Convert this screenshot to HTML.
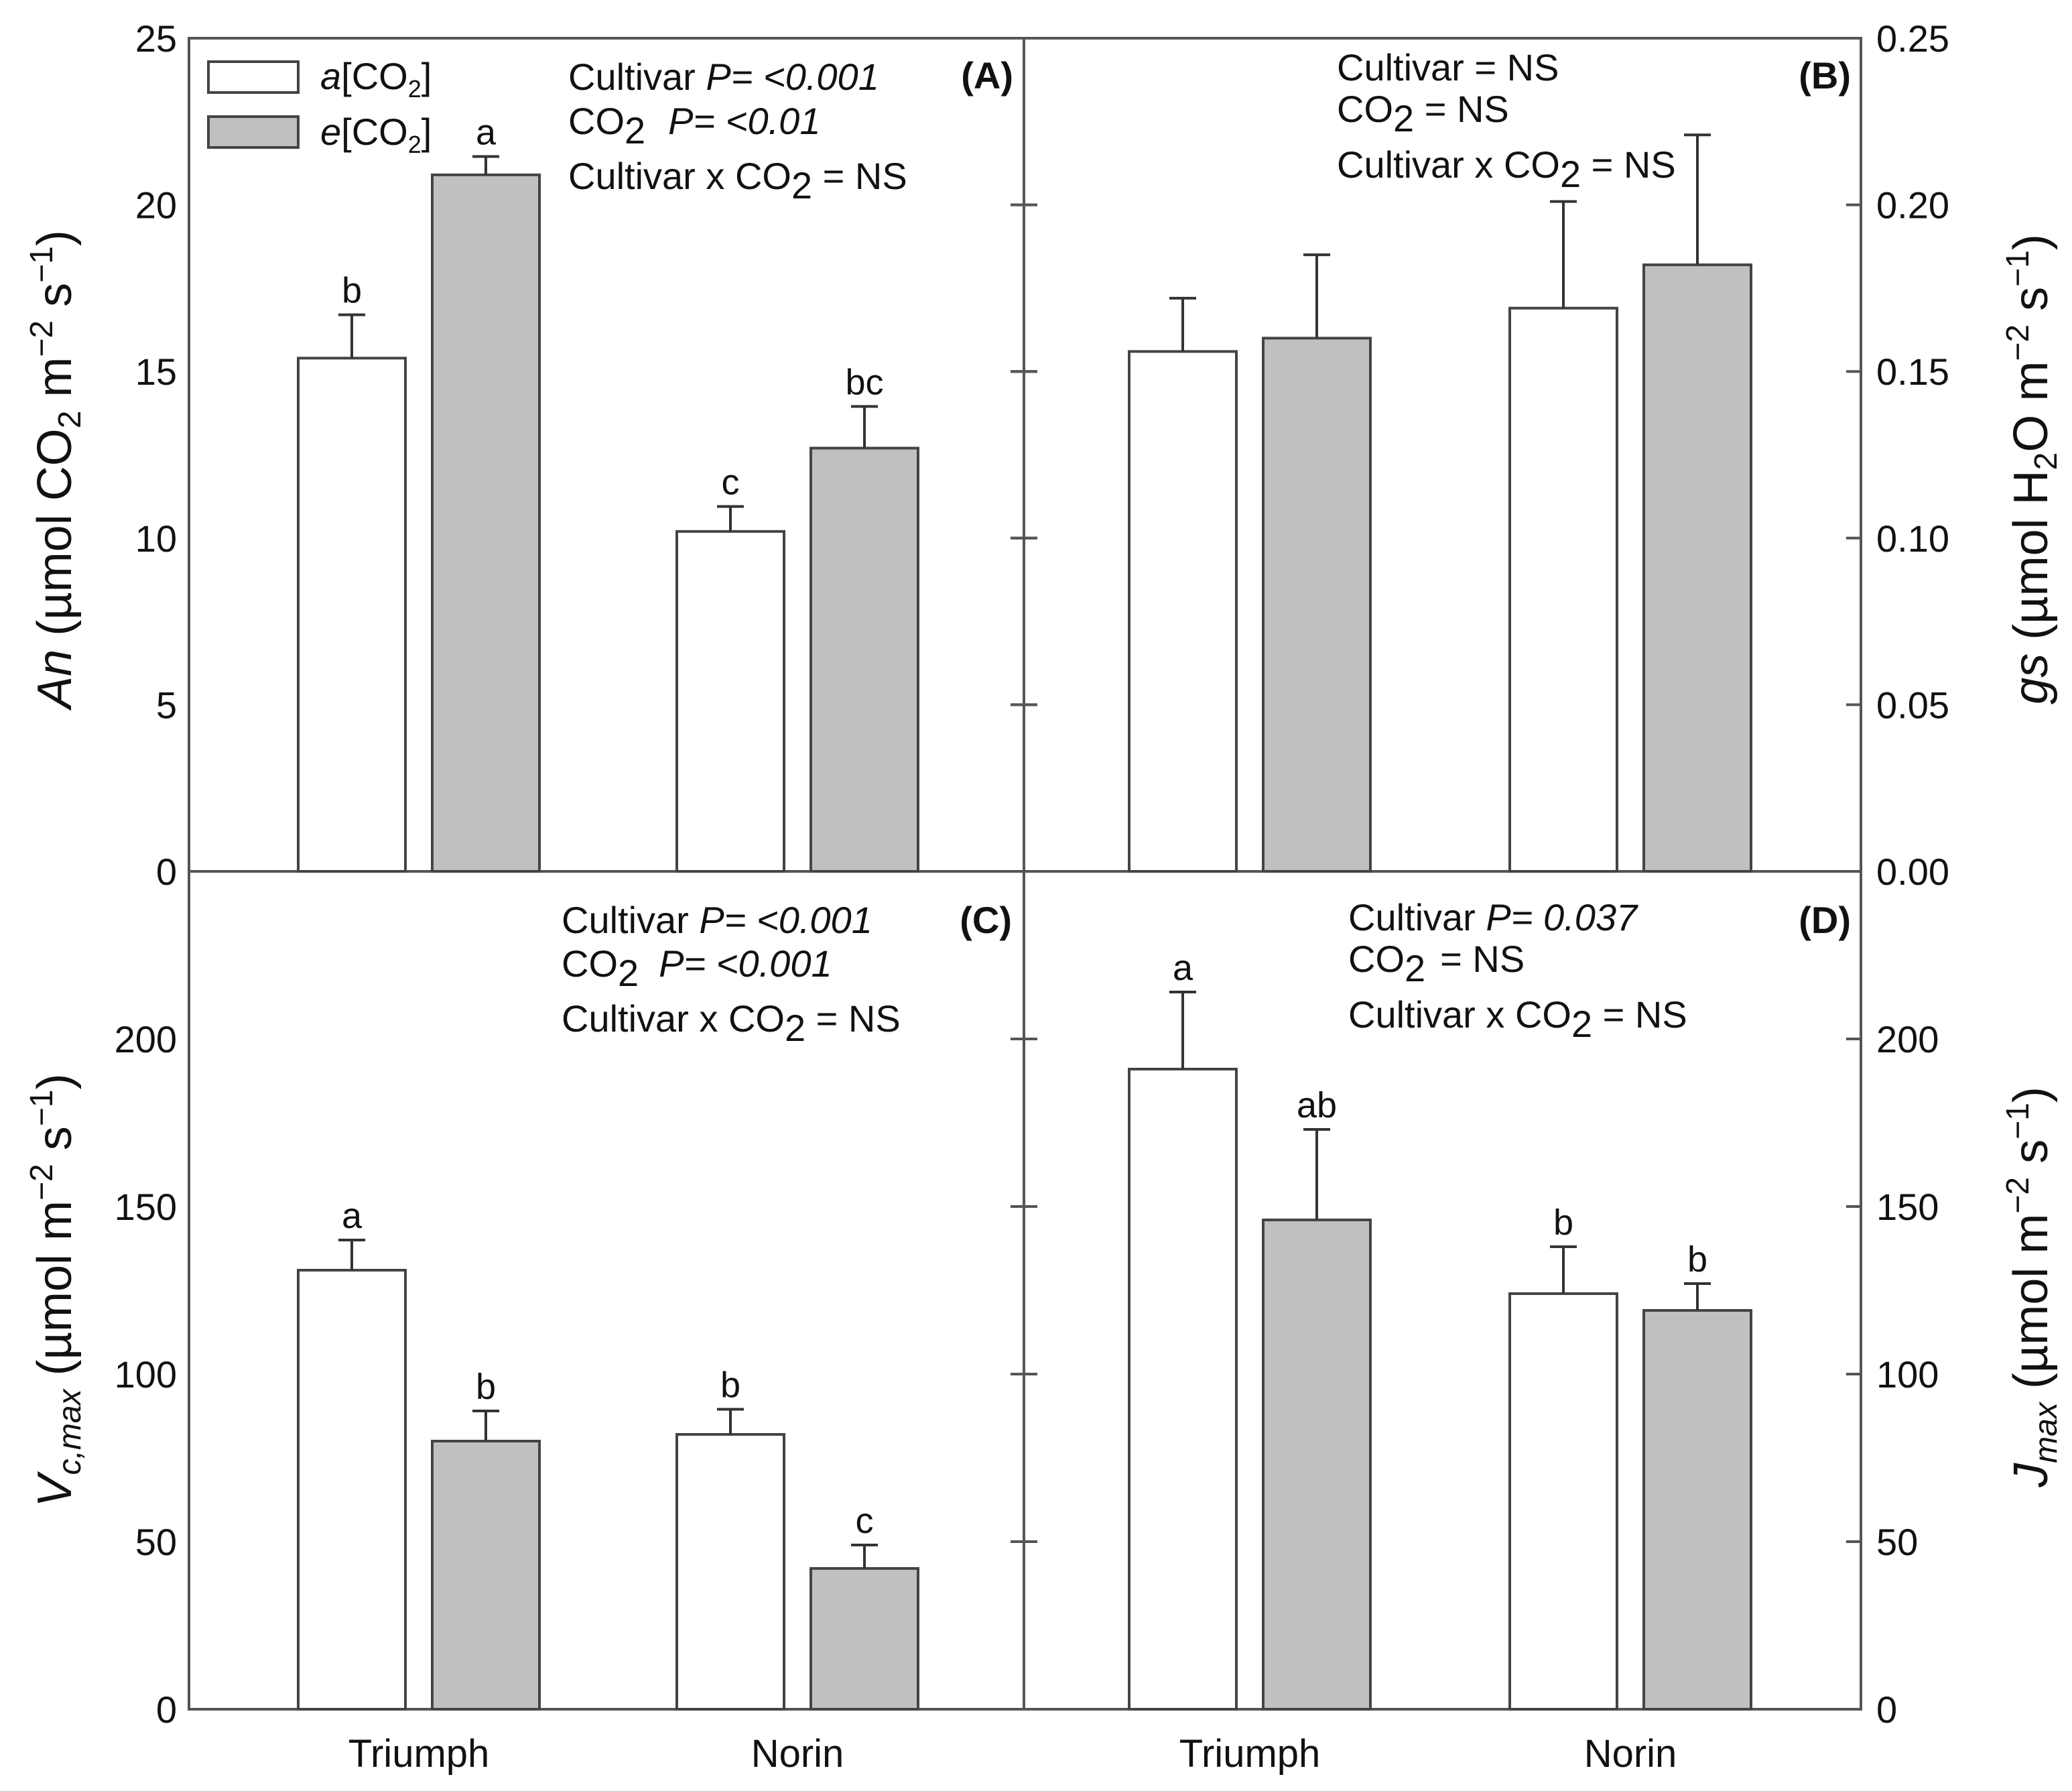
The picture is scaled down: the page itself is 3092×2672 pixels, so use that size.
<!DOCTYPE html>
<html><head><meta charset="utf-8"><style>
html,body{margin:0;padding:0;background:#fff}
svg{display:block;font-family:"Liberation Sans",Arial,sans-serif}
</style></head><body>
<svg id="chart" width="3092" height="2672" viewBox="0 0 3092 2672" xmlns="http://www.w3.org/2000/svg">
<g id="frame" stroke="#555" stroke-width="4" fill="none">
<rect x="282" y="57" width="2495" height="2493"/>
<line x1="1528" y1="57" x2="1528" y2="2550"/>
<line x1="282" y1="1300" x2="2777" y2="1300"/>
</g>
<g id="marks"></g>
<g id="texts" font-size="56" fill="#111">
<rect x="311" y="92" width="134" height="46" fill="#fff" stroke="#444" stroke-width="4"/>
<rect x="311" y="174" width="134" height="46" fill="#c0c0c0" stroke="#444" stroke-width="4"/>
<text x="478" y="133"><tspan font-style="italic">a</tspan>[CO<tspan font-size="36" dy="12">2</tspan><tspan dy="-12">]</tspan></text>
<text x="478" y="216"><tspan font-style="italic">e</tspan>[CO<tspan font-size="36" dy="12">2</tspan><tspan dy="-12">]</tspan></text>
<text x="848" y="134">Cultivar <tspan font-style="italic">P= &lt;0.001</tspan></text>
<text x="848" y="200">CO<tspan dy="14">2</tspan><tspan dy="-14" dx="34" font-style="italic">P= &lt;0.01</tspan></text>
<text x="848" y="282">Cultivar x CO<tspan dy="14">2</tspan><tspan dy="-14"> = NS</tspan></text>
<text x="1512" y="132" text-anchor="end" font-weight="bold">(A)</text>
<text x="1995" y="120">Cultivar = NS</text>
<text x="1995" y="182">CO<tspan dy="14">2</tspan><tspan dy="-14"> = NS</tspan></text>
<text x="1995" y="265">Cultivar x CO<tspan dy="14">2</tspan><tspan dy="-14"> = NS</tspan></text>
<text x="2762" y="132" text-anchor="end" font-weight="bold">(B)</text>
<text x="838" y="1392">Cultivar <tspan font-style="italic">P= &lt;0.001</tspan></text>
<text x="838" y="1457">CO<tspan dy="14">2</tspan><tspan dy="-14" dx="30" font-style="italic">P= &lt;0.001</tspan></text>
<text x="838" y="1539">Cultivar x CO<tspan dy="14">2</tspan><tspan dy="-14"> = NS</tspan></text>
<text x="1510" y="1392" text-anchor="end" font-weight="bold">(C)</text>
<text x="2012" y="1388">Cultivar <tspan font-style="italic">P= 0.037</tspan></text>
<text x="2012" y="1450">CO<tspan dy="14">2</tspan><tspan dy="-14" dx="22">= NS</tspan></text>
<text x="2012" y="1533">Cultivar x CO<tspan dy="14">2</tspan><tspan dy="-14"> = NS</tspan></text>
<text x="2762" y="1392" text-anchor="end" font-weight="bold">(D)</text>
<text font-size="72" text-anchor="middle" transform="translate(106,700) rotate(-90)"><tspan font-style="italic">An</tspan> (µmol CO<tspan font-size="48" dy="14">2</tspan><tspan dy="-14"> m</tspan><tspan font-size="48" dy="-28">−2</tspan><tspan dy="28"> s</tspan><tspan font-size="48" dy="-28">−1</tspan><tspan dy="28">)</tspan></text>
<text font-size="72" text-anchor="middle" transform="translate(106,1925) rotate(-90)"><tspan font-style="italic">V</tspan><tspan font-style="italic" font-size="48" dy="14">c,max</tspan><tspan dy="-14"> (µmol m</tspan><tspan font-size="48" dy="-28">−2</tspan><tspan dy="28"> s</tspan><tspan font-size="48" dy="-28">−1</tspan><tspan dy="28">)</tspan></text>
<text font-size="72" text-anchor="middle" transform="translate(3055,700) rotate(-90)"><tspan font-style="italic">gs</tspan> (µmol H<tspan font-size="48" dy="14">2</tspan><tspan dy="-14">O m</tspan><tspan font-size="48" dy="-28">−2</tspan><tspan dy="28"> s</tspan><tspan font-size="48" dy="-28">−1</tspan><tspan dy="28">)</tspan></text>
<text font-size="72" text-anchor="middle" transform="translate(3055,1920) rotate(-90)"><tspan font-style="italic">J</tspan><tspan font-style="italic" font-size="48" dy="14">max</tspan><tspan dy="-14"> (µmol m</tspan><tspan font-size="48" dy="-28">−2</tspan><tspan dy="28"> s</tspan><tspan font-size="48" dy="-28">−1</tspan><tspan dy="28">)</tspan></text>
</g>
</svg>
<script>
const categories = ["Triumph", "Norin"];
const anMean = [15.4, 20.9, 10.2, 12.7];
const anErr = [1.3, 0.55, 0.75, 1.25];
const anLetters = ["b", "a", "c", "bc"];
const gsMean = [0.156, 0.160, 0.169, 0.182];
const gsErr = [0.016, 0.025, 0.032, 0.039];
const gsLetters = ["", "", "", ""];
const vcMean = [131, 80, 82, 42];
const vcErr = [9, 9, 7.5, 7];
const vcLetters = ["a", "b", "b", "c"];
const jmMean = [191, 146, 124, 119];
const jmErr = [23, 27, 14, 8];
const jmLetters = ["a", "ab", "b", "b"];
const anTicks = [0, 5, 10, 15, 20, 25];
const gsTicks = ["0.00", "0.05", "0.10", "0.15", "0.20", "0.25"];
const vcTicks = [0, 50, 100, 150, 200];
const jmTicks = [0, 50, 100, 150, 200];

const NS = "http://www.w3.org/2000/svg";
const marks = document.getElementById("marks");
function el(tag, attrs, parent) {
  const e = document.createElementNS(NS, tag);
  for (const k in attrs) e.setAttribute(k, attrs[k]);
  (parent || marks).appendChild(e);
  return e;
}
const panels = [
  {key:"an", yb:1300, yt:57, max:25, mean:anMean, err:anErr, letters:anLetters, ticks:anTicks, side:"left", xoff:[445,645,1010,1210]},
  {key:"gs", yb:1300, yt:57, max:0.25, mean:gsMean, err:gsErr, letters:gsLetters, ticks:gsTicks, side:"right", xoff:[1685,1885,2253,2453]},
  {key:"vc", yb:2550, yt:1300, max:250, mean:vcMean, err:vcErr, letters:vcLetters, ticks:vcTicks, side:"left", xoff:[445,645,1010,1210]},
  {key:"jm", yb:2550, yt:1300, max:250, mean:jmMean, err:jmErr, letters:jmLetters, ticks:jmTicks, side:"right", xoff:[1685,1885,2253,2453]}
];
const BW = 160;
panels.forEach(p => {
  const y = v => p.yb - (v / p.max) * (p.yb - p.yt);
  p.ticks.forEach(t => {
    const v = parseFloat(t);
    const ty = y(v);
    if (v > 0 && v < p.max) {
      const tk = el("line", {x1: 1508, x2: 1548, y1: ty, y2: ty, stroke: "#555", "stroke-width": 4});
      
      
      if (p.side === "right") {
        const tr = el("line", {x1: 2755, x2: 2777, y1: ty, y2: ty, stroke: "#555", "stroke-width": 4});
        
        
      }
    }
    const lab = el("text", {x: p.side === "left" ? 264 : 2800, y: ty + 20, "font-size": 56, fill: "#111", "text-anchor": p.side === "left" ? "end" : "start"});
    
    
    lab.textContent = String(t);
  });
  p.mean.forEach((m, i) => {
    const bx = p.xoff[i];
    const top = y(m);
    const bar = el("rect", {x: bx, y: top, width: BW, height: p.yb - top, fill: i % 2 ? "#c0c0c0" : "#fff", stroke: "#444", "stroke-width": 4});
    
    
    const cx = bx + BW / 2;
    const ey = y(m + p.err[i]);
    const eb = el("path", {d: `M${cx},${top} V${ey} M${cx - 20},${ey} H${cx + 20}`, stroke: "#333", "stroke-width": 4, fill: "none"});
    
    
    if (p.letters[i]) {
      const lt = el("text", {x: cx, y: ey - 18, "font-size": 54, fill: "#111", "text-anchor": "middle"});
      
      
      lt.textContent = p.letters[i];
    }
  });
  if (p.yb === 2550) {
    categories.forEach((c, j) => {
      const cx = (p.xoff[2*j] + p.xoff[2*j+1] + BW) / 2;
      const t = el("text", {x: cx, y: 2636, "font-size": 58, fill: "#111", "text-anchor": "middle"});
      
      
      t.textContent = c;
    });
  }
});
</script>
</body></html>
